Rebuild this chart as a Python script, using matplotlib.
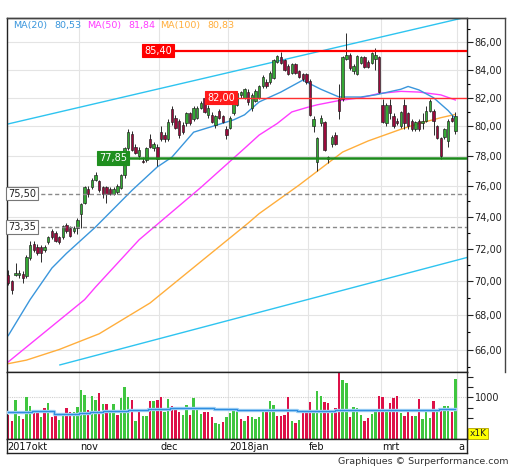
import matplotlib
matplotlib.use("Agg")
import matplotlib.pyplot as plt
import matplotlib.ticker as mticker
from matplotlib.lines import Line2D

# ---------------- data ----------------
opens = [70.4, 70.0, 70.4, 70.4, 70.45, 70.3, 71.4, 72.3, 72.1, 72.1,
         71.9, 72.4, 73.1, 73.0, 72.7, 72.7, 73.5, 73.3, 73.1, 73.3,
         74.2, 74.9, 75.8, 75.9, 76.4, 76.3, 75.9, 75.9, 75.8, 75.5,
         75.6, 75.85, 76.7, 78.5, 79.5, 78.6, 78.0, 77.65, 77.7, 79.1,
         78.5, 78.6, 79.6, 79.4, 79.1, 81.2, 80.6, 80.4, 80.1, 80.2,
         80.9, 80.5, 80.6, 81.3, 82.0, 80.8, 80.8, 80.1, 81.1, 80.7,
         79.8, 79.9, 80.9, 81.5, 82.2, 82.0, 82.4, 81.3, 81.8, 82.0,
         82.8, 83.1, 83.1, 83.4, 84.6, 84.9, 84.7, 84.3, 83.8, 84.4,
         83.9, 83.7, 83.7, 83.2, 80.0, 77.6, 80.2, 80.3, 77.9, 78.8,
         79.4, 81.9, 81.9, 84.8, 85.1, 83.9, 83.7, 84.5, 84.9, 84.6,
         84.5, 84.8, 84.9, 81.5, 80.2, 81.5, 80.7, 80.4, 80.0, 81.5,
         80.9, 80.4, 79.8, 80.4, 80.2, 80.4, 81.1, 81.1, 80.0, 79.2,
         79.3, 79.0, 80.6, 79.7]
highs = [70.7, 70.1, 71.1, 70.7, 70.6, 71.6, 72.5, 72.5, 72.3, 72.2,
         72.2, 72.8, 73.2, 73.1, 72.8, 73.5, 73.6, 73.4, 73.4, 73.9,
         74.9, 76.0, 76.0, 76.5, 76.9, 76.4, 76.0, 76.0, 75.9, 75.9,
         76.1, 76.8, 78.6, 79.8, 79.7, 78.8, 78.6, 77.9, 78.6, 79.5,
         78.9, 78.8, 80.0, 79.6, 80.5, 81.4, 80.8, 80.5, 80.3, 81.0,
         81.0, 81.4, 81.4, 81.8, 82.1, 81.5, 81.0, 80.8, 81.2, 80.8,
         80.0, 80.7, 81.8, 82.4, 82.5, 82.7, 82.6, 82.3, 82.6, 82.9,
         83.6, 83.3, 83.9, 84.8, 85.1, 85.3, 84.8, 84.4, 84.5, 84.5,
         84.0, 83.8, 83.8, 83.3, 80.7, 79.3, 80.8, 80.4, 78.0, 79.4,
         79.6, 83.0, 85.0, 86.7, 85.2, 84.4, 85.1, 85.0, 85.0, 84.7,
         85.3, 85.6, 85.0, 81.9, 81.6, 81.9, 80.9, 80.6, 81.1, 81.9,
         81.0, 80.5, 80.4, 80.5, 80.9, 81.4, 81.9, 81.2, 80.1, 79.3,
         79.9, 80.5, 80.8, 81.0]
lows = [69.8, 69.25, 70.3, 70.2, 69.9, 70.2, 71.3, 71.8, 71.6, 71.2,
        71.8, 72.3, 72.6, 72.4, 72.3, 72.6, 73.0, 72.7, 73.0, 72.9,
        73.3, 74.8, 75.3, 75.8, 76.3, 75.6, 75.2, 74.9, 75.4, 75.4,
        75.5, 75.8, 76.5, 78.4, 78.3, 78.1, 77.8, 77.5, 77.6, 78.5,
        78.3, 77.3, 79.0, 78.9, 79.0, 80.1, 79.8, 79.2, 79.5, 80.0,
        80.1, 80.4, 80.5, 81.2, 80.9, 80.6, 80.2, 79.9, 80.5, 80.2,
        79.1, 79.8, 80.8, 81.4, 82.0, 81.9, 81.5, 81.1, 81.7, 81.9,
        82.7, 82.7, 83.0, 83.3, 84.5, 84.4, 83.9, 83.6, 83.7, 83.7,
        83.4, 83.2, 83.0, 80.7, 79.6, 77.0, 80.0, 78.3, 77.5, 78.6,
        78.7, 80.5, 81.8, 84.7, 84.0, 83.7, 83.6, 84.4, 84.1, 84.1,
        84.4, 84.0, 82.3, 80.2, 80.0, 80.5, 79.9, 80.1, 79.9, 79.8,
        79.8, 79.7, 79.7, 79.7, 79.8, 80.3, 81.0, 79.4, 79.1, 77.8,
        79.1, 78.6, 80.3, 79.5]
closes = [69.9, 69.45, 70.5, 70.5, 70.2, 71.5, 72.2, 71.9, 71.7, 71.7,
          72.1, 72.7, 72.7, 72.5, 72.4, 73.4, 73.1, 72.8, 73.3, 73.8,
          74.8, 75.9, 75.5, 76.4, 76.7, 75.7, 75.5, 75.5, 75.5, 75.8,
          76.0, 76.7, 78.5, 79.6, 78.4, 78.2, 78.4, 77.6, 78.5, 78.6,
          78.8, 77.8, 79.1, 79.1, 80.3, 80.3, 79.9, 79.4, 79.6, 80.9,
          80.2, 81.3, 81.3, 81.6, 81.0, 81.3, 80.3, 80.7, 80.6, 80.3,
          79.4, 80.6, 81.7, 82.3, 82.4, 82.6, 81.7, 82.2, 82.5, 82.8,
          83.5, 82.8, 83.8, 84.7, 85.0, 84.5, 84.0, 83.7, 84.4, 83.8,
          83.5, 83.3, 83.1, 80.8, 80.5, 79.2, 80.6, 78.4, 77.75, 79.3,
          78.8, 81.1, 84.9, 85.1, 84.1, 84.3, 85.0, 84.9, 84.2, 84.2,
          85.2, 85.1, 82.4, 80.3, 81.5, 80.9, 80.0, 80.2, 81.0, 80.2,
          80.0, 79.8, 80.3, 79.8, 80.35, 81.1, 81.8, 80.4, 79.2, 78.0,
          79.8, 80.4, 80.4, 80.7]
volumes = [584, 440, 928, 560, 480, 1016, 792, 680, 648, 520,
           744, 856, 520, 616, 456, 560, 744, 640, 640, 768,
           1176, 1064, 696, 1040, 928, 1112, 840, 840, 664, 840,
           568, 984, 1248, 1000, 928, 440, 712, 544, 544, 904,
           904, 928, 1000, 640, 952, 792, 712, 640, 568, 808,
           568, 992, 744, 600, 656, 656, 520, 392, 368, 408,
           520, 624, 712, 688, 480, 440, 544, 520, 488, 520,
           712, 688, 904, 816, 544, 544, 568, 1016, 432, 384,
           456, 664, 640, 888, 664, 1152, 1040, 888, 864, 624,
           744, 1608, 1416, 1336, 520, 768, 744, 584, 432, 496,
           600, 720, 1040, 1008, 664, 864, 984, 1040, 632, 544,
           720, 544, 544, 960, 480, 664, 504, 904, 704, 720,
           792, 792, 656, 1448]
vol_dir = ("RRGGRGGRRG" "RGRRGGRRGG" "GGRGGRGRGG" "RGGGRGRGGR" "GRRGGRRRGG"
           "RGGGRRRGGR" "GGGGRGRGGG" "GRGGRRRRGR" "GRRRGGGRRG" "RRGGRGGGRR"
           "GGRRGRRRGR" "RRGRGGGRGR" "GGRG")

ma20_day = [0, 6, 12, 16, 24, 34, 41, 45, 51, 62, 65, 69, 75, 81, 86, 91, 97, 101, 108, 110, 113, 117, 121, 123]
ma20_val = [66.8, 68.9, 70.8, 71.7, 73.35, 75.7, 77.25, 77.9, 79.6, 80.45, 80.8, 81.7, 82.4, 83.25,
            82.6, 82.05, 82.05, 82.2, 82.6, 82.8, 82.55, 82.0, 81.1, 80.53]
ma50_day = [0, 21, 24, 36, 53, 65, 69, 74, 78, 82, 85, 91, 97, 102, 108, 113, 119, 123]
ma50_val = [65.3, 68.9, 69.65, 72.55, 75.9, 78.5, 79.4, 80.2, 81.0, 81.3, 81.5, 81.8, 82.0, 82.3,
            82.45, 82.4, 82.2, 81.84]
ma100_day = [0, 5, 14, 25, 39, 53, 66, 69, 80, 89, 92, 99, 108, 113, 119, 123]
ma100_val = [65.2, 65.4, 66.0, 66.9, 68.7, 71.2, 73.6, 74.2, 76.05, 77.7, 78.25, 79.0, 79.8, 80.2,
             80.6, 80.83]
volma_day = [0, 6, 7, 12, 13, 19, 20, 25, 27, 31, 35, 42, 47, 53, 60, 66, 71, 78, 81, 89, 91, 101, 108, 117, 120, 123]
volma_val = [640, 640, 664, 664, 600, 600, 616, 656, 664, 680, 696, 720, 744, 736, 720, 696, 696, 696,
             664, 680, 704, 696, 696, 696, 720, 720]

chan_up_day = [-0.33, 126.2]
chan_up_val = [80.15, 87.91]
chan_lo_day = [14.2, 126.2]
chan_lo_val = [65.13, 71.45]

levels = [85.40, 82.00, 77.85, 75.50, 73.35]
level_labels = ["85,40", "82,00", "77,85", "75,50", "73,35"]
level_start = [36.9, 54.2, 24.5, -0.6, -0.6]

month_labels = ["2017okt", "nov", "dec", "2018jan", "feb", "mrt", "a"]
month_start = [0, 20, 42, 61, 83, 103, 124]

legend_names = ["MA(20)", "MA(50)", "MA(100)"]
legend_values = ["80,53", "81,84", "80,83"]

y_ticks = [66, 68, 70, 72, 74, 76, 78, 80, 82, 84, 86]
vol_ticks = [250, 500, 750, 1000, 1250, 1500]

# ---------------- style ----------------
C_UP = "#34a834"
C_DN = "#9a0a3c"
C_VUP = "#3fc63f"
C_VDN = "#dd1148"
C_MA20 = "#3a96dc"
C_MA50 = "#ff3cff"
C_MA100 = "#ffae3c"
C_CHAN = "#2ec4f0"
GRID = "#e4e4e4"

W, H = 512, 470
fig = plt.figure(figsize=(W / 100, H / 100), dpi=100)
fig.patch.set_facecolor("white")

def fx(px):
    return px / W

def fy(py):
    return 1 - py / H

left, right = 7, 467
top_main, bot_main, bot_vol, bot_date = 18.3, 371.7, 439.3, 453.0

ax = fig.add_axes([fx(left), fy(bot_main), fx(right - left), (bot_main - top_main) / H])
axv = fig.add_axes([fx(left), fy(bot_vol), fx(right - left), (bot_vol - bot_main) / H])
axd = fig.add_axes([fx(left), fy(bot_date), fx(right - left), (bot_date - bot_vol) / H])

xmin, xmax = -0.35, 126.2
n = len(closes)
days = list(range(n))

# ---------------- main panel ----------------
ax.set_yscale("log")
ax.set_xlim(xmin, xmax)
ax.set_ylim(64.75, 87.81)

for m in month_start[1:]:
    ax.axvline(m - 0.5, color=GRID, lw=0.8, zorder=0)
    axv.axvline(m - 0.5, color=GRID, lw=0.8, zorder=0)
for t in y_ticks:
    ax.axhline(t, color=GRID, lw=0.8, zorder=0)

# channel lines
ax.plot(chan_up_day, chan_up_val, color=C_CHAN, lw=1.0, zorder=1)
ax.plot(chan_lo_day, chan_lo_val, color=C_CHAN, lw=1.0, zorder=1)

# moving averages
ax.plot(ma100_day, ma100_val, color=C_MA100, lw=1.0, zorder=2)
ax.plot(ma50_day, ma50_val, color=C_MA50, lw=1.0, zorder=2)
ax.plot(ma20_day, ma20_val, color=C_MA20, lw=1.0, zorder=2)

# candles
ax.vlines(days, lows, highs, color="#2a2a2a", lw=0.7, zorder=3)
bottoms = [min(o, c) for o, c in zip(opens, closes)]
heights = [max(abs(c - o), 0.05) for o, c in zip(opens, closes)]
colors = [C_UP if c >= o else C_DN for o, c in zip(opens, closes)]
ax.bar(days, heights, bottom=bottoms, width=0.66, color=colors,
       edgecolor="#1e1e1e", linewidth=0.45, zorder=4)

# horizontal levels
ax.hlines(levels[0], level_start[0], xmax, color="#ff0000", lw=1.6, zorder=5)
ax.hlines(levels[1], level_start[1], xmax, color="#ff3030", lw=1.0, zorder=5)
ax.hlines(levels[2], level_start[2], xmax, color="#1c8a1c", lw=1.8, zorder=5)
ax.hlines(levels[3], level_start[3], xmax, color="#8a8a8a", lw=1.0, linestyles=(0, (3, 2)), zorder=5)
ax.hlines(levels[4], level_start[4], xmax, color="#8a8a8a", lw=1.0, linestyles=(0, (3, 2)), zorder=5)

box_styles = [
    dict(fc="#ff0000", ec="#ff0000", tc="white"),
    dict(fc="#ff1a1a", ec="#ff1a1a", tc="white"),
    dict(fc="#1f8f1f", ec="#1f8f1f", tc="white"),
    dict(fc="white", ec="#777777", tc="#222222"),
    dict(fc="white", ec="#777777", tc="#222222"),
]
for lv, lab, st, bs in zip(levels, level_labels, level_start, box_styles):
    ax.text(st + 0.5, lv, lab, ha="left", va="center", fontsize=7, color=bs["tc"],
            zorder=7, bbox=dict(boxstyle="square,pad=0.18", fc=bs["fc"], ec=bs["ec"], lw=0.8))

# legend text
leg_colors = [C_MA20, C_MA50, C_MA100]
name_x = [13, 87, 160]
val_x = [54, 128, 207]
for nm, vl, c, nx, vx in zip(legend_names, legend_values, leg_colors, name_x, val_x):
    ax.text((nx - left) / (right - left), 0.979, nm, transform=ax.transAxes, ha="left",
            va="center", fontsize=6.8, color=c, zorder=8)
    ax.text((vx - left) / (right - left), 0.979, vl, transform=ax.transAxes, ha="left",
            va="center", fontsize=6.8, color=c, zorder=8)

ax.yaxis.set_major_locator(mticker.FixedLocator(y_ticks))
ax.yaxis.set_major_formatter(mticker.FuncFormatter(lambda v, p: f"{v:.2f}".replace(".", ",")))
ax.yaxis.set_minor_locator(mticker.FixedLocator([t + 1 for t in y_ticks[:-1]] + [65, 87]))
ax.yaxis.set_minor_formatter(mticker.NullFormatter())
ax.yaxis.tick_right()
ax.tick_params(axis="y", which="major", direction="out", length=4, width=0.8, labelsize=7,
               pad=1.5, colors="#222222")
ax.tick_params(axis="y", which="minor", direction="out", length=2.5, width=0.8)
ax.tick_params(axis="x", bottom=False, labelbottom=False)
for s in ax.spines.values():
    s.set_color("#222222")
    s.set_linewidth(1.0)

# ---------------- volume panel ----------------
vcols = [C_VUP if d == "G" else C_VDN for d in vol_dir]
axv.bar(days, volumes, width=0.66, color=vcols, linewidth=0, zorder=2)
axv.plot(volma_day, volma_val, color="#9fd0f5", lw=2.4, zorder=3, drawstyle="steps-mid")
axv.plot(volma_day, volma_val, color="#2f8ee0", lw=0.9, zorder=4, drawstyle="steps-mid")
axv.axhline(1000, color="#cfcfcf", lw=0.8, ls=(0, (1, 1)), zorder=0)
axv.set_xlim(xmin, xmax)
axv.set_ylim(-8, 1616)
axv.yaxis.tick_right()
axv.yaxis.set_major_locator(mticker.FixedLocator(vol_ticks))
axv.yaxis.set_major_formatter(mticker.FuncFormatter(lambda v, p: "1000" if v == 1000 else ""))
axv.tick_params(axis="y", direction="out", length=4, width=0.8, labelsize=7, pad=1.5,
                colors="#222222")
axv.tick_params(axis="x", bottom=False, labelbottom=False)
for s in axv.spines.values():
    s.set_color("#222222")
    s.set_linewidth(1.0)
axv.text(1.005, 0.02, "x1K", transform=axv.transAxes, ha="left", va="bottom", fontsize=6.5,
         color="#222222", bbox=dict(boxstyle="square,pad=0.15", fc="#ffff00", ec="#b0a000", lw=0.6))

# ---------------- date strip ----------------
axd.set_xlim(xmin, xmax)
axd.set_ylim(0, 1)
axd.set_yticks([])
axd.set_xticks([])
for lab, m in zip(month_labels, month_start):
    axd.text(m - 0.2, 0.45, lab, ha="left", va="center", fontsize=7, color="#111111")
for s in axd.spines.values():
    s.set_color("#222222")
    s.set_linewidth(1.0)

# outer frame of the price area and footer
fig.add_artist(Line2D([fx(left), fx(505)], [fy(top_main), fy(top_main)], color="#444444", lw=1.0))
fig.add_artist(Line2D([fx(505), fx(505)], [fy(top_main), fy(bot_main)], color="#444444", lw=1.0))
fig.text(fx(508), fy(462), "Graphiques \u00a9 Surperformance.com", ha="right", va="center",
         fontsize=6.8, color="#333333")

fig.savefig("out.png", dpi=100, facecolor="white")
